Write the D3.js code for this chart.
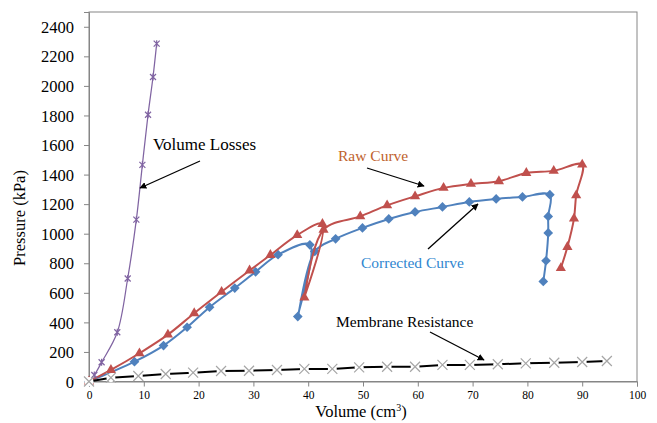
<!DOCTYPE html>
<html>
<head>
<meta charset="UTF-8">
<title>Pressure vs Volume</title>
<style>
	body { margin: 0; background: #ffffff; }
</style>
</head>
<body>
<div id="vis"></div>
<script src="https://d3js.org/d3.v7.min.js"></script>
<script>
// values
var xTicks = [0, 10, 20, 30, 40, 50, 60, 70, 80, 90, 100];
var yTicks = [0, 200, 400, 600, 800, 1000, 1200, 1400, 1600, 1800, 2000, 2200, 2400];

var lossVol = [0, 0.97, 2.3, 5.16, 7.06, 8.64, 9.74, 10.77, 11.68, 12.35];
var lossP   = [0, 44, 130, 333, 697, 1095, 1466, 1805, 2060, 2286];

var rawVol = [0, 4.0, 9.2, 14.4, 19.2, 24.2, 29.3, 33.1, 38.0, 42.6, 39.3, 42.8, 49.5, 54.4, 59.5, 64.7, 69.7, 74.8, 79.8, 84.8, 90.0, 88.9, 88.5, 87.3, 86.1];
var rawP   = [0, 78, 191, 317, 462, 607, 751, 856, 991, 1066, 568, 1027, 1117, 1192, 1253, 1310, 1337, 1355, 1411, 1425, 1468, 1260, 1102, 910, 767];

var corrVol = [0, 8.3, 13.6, 17.9, 22.0, 26.6, 30.4, 34.5, 40.3, 38.1, 41.2, 45.0, 49.9, 54.7, 59.5, 64.5, 69.4, 74.3, 79.1, 84.1, 83.8, 83.8, 83.4, 82.9];
var corrP   = [0, 134, 243, 367, 503, 632, 742, 858, 925, 439, 880, 965, 1039, 1100, 1147, 1181, 1215, 1235, 1249, 1264, 1117, 1005, 817, 677];

var memVol = [0, 4.0, 9.0, 14.0, 19.0, 24.1, 29.2, 34.3, 39.3, 44.4, 49.3, 54.4, 59.5, 64.5, 69.5, 74.6, 79.7, 84.9, 90.0, 94.5];
var memP   = [0, 26, 37, 51, 60, 71, 73, 78, 85, 85, 96, 100, 100, 112, 112, 117, 123, 127, 132, 139];

var serif = "'Liberation Serif', 'Times New Roman', serif";
var width = 657, height = 423;
var margin = {top: 12, right: 20, bottom: 41.5, left: 89};

var svg = d3.select("#vis")
	.append("svg")
	.attr("width", width)
	.attr("height", height);

var x = d3.scaleLinear().domain([0, 100]).range([margin.left, width - margin.right]);
var y = d3.scaleLinear().domain([0, 2500]).range([height - margin.bottom, margin.top]);

var defs = svg.append("defs");
defs.append("marker")
	.attr("id", "arrow")
	.attr("viewBox", "0 0 10 10")
	.attr("refX", 9)
	.attr("refY", 5)
	.attr("markerWidth", 7)
	.attr("markerHeight", 7)
	.attr("markerUnits", "userSpaceOnUse")
	.attr("orient", "auto")
	.append("path")
	.attr("d", "M0,0 L10,5 L0,10 z")
	.attr("fill", "#000");

// plot frame
svg.append("rect")
	.attr("x", x(0))
	.attr("y", y(2500))
	.attr("width", x(100) - x(0))
	.attr("height", y(0) - y(2500))
	.attr("fill", "none")
	.attr("stroke", "#868686")
	.attr("stroke-width", 1);

// axes
var xAxis = svg.append("g")
	.attr("transform", "translate(0," + y(0) + ")")
	.call(d3.axisBottom(x).tickValues(xTicks).tickFormat(d3.format("d")).tickSize(5).tickPadding(4));
var yAxis = svg.append("g")
	.attr("transform", "translate(" + x(0) + ",0)")
	.call(d3.axisLeft(y).tickValues(yTicks).tickFormat(d3.format("d")).tickSize(5).tickPadding(10));

xAxis.select(".domain").attr("stroke", "#868686");
yAxis.select(".domain").attr("stroke", "#868686");
xAxis.selectAll(".tick line").attr("stroke", "#868686");
yAxis.selectAll(".tick line").attr("stroke", "#868686");
xAxis.selectAll(".tick text")
	.attr("fill", "#000")
	.style("font-size", "11.5px");
yAxis.selectAll(".tick text")
	.attr("fill", "#000")
	.attr("dy", "0.34em")
	.style("font-size", "16.5px");

// axis titles
var xTitle = svg.append("text")
	.attr("x", (x(0) + x(100)) / 2 - 2)
	.attr("y", 417)
	.attr("text-anchor", "middle")
	.style("font-size", "16.5px");
xTitle.append("tspan").text("Volume (cm");
xTitle.append("tspan").attr("dy", "-6").style("font-size", "10px").text("3");
xTitle.append("tspan").attr("dy", "6").text(")");

svg.append("text")
	.attr("transform", "translate(25," + 218 + ") rotate(-90)")
	.attr("text-anchor", "middle")
	.style("font-size", "16.5px")
	.text("Pressure (kPa)");

function pts(xs, ys) {
	return xs.map(function(v, i) { return [v, ys[i]]; });
}

var smooth = d3.line()
	.x(function(d) { return x(d[0]); })
	.y(function(d) { return y(d[1]); })
	.curve(d3.curveCatmullRom.alpha(0.5));

var straight = d3.line()
	.x(function(d) { return x(d[0]); })
	.y(function(d) { return y(d[1]); });

var corrData = pts(corrVol, corrP);
var rawData = pts(rawVol, rawP);
var lossData = pts(lossVol, lossP);
var memData = pts(memVol, memP);

// corrected curve
svg.append("path")
	.attr("d", smooth(corrData))
	.attr("fill", "none")
	.attr("stroke", "#4F81BD")
	.attr("stroke-width", 2);
svg.selectAll("path.diamond")
	.data(corrData)
	.enter()
	.append("path")
	.attr("class", "diamond")
	.attr("transform", function(d) { return "translate(" + x(d[0]) + "," + y(d[1]) + ")"; })
	.attr("d", d3.symbol().type(d3.symbolDiamond2).size(60))
	.attr("fill", "#4F81BD");

// raw curve
svg.append("path")
	.attr("d", smooth(rawData))
	.attr("fill", "none")
	.attr("stroke", "#C0504D")
	.attr("stroke-width", 2);
svg.selectAll("path.tri")
	.data(rawData)
	.enter()
	.append("path")
	.attr("class", "tri")
	.attr("transform", function(d) { return "translate(" + x(d[0]) + "," + y(d[1]) + ")"; })
	.attr("d", d3.symbol().type(d3.symbolTriangle).size(45))
	.attr("fill", "#C0504D");

// volume losses
svg.append("path")
	.attr("d", smooth(lossData))
	.attr("fill", "none")
	.attr("stroke", "#8064A2")
	.attr("stroke-width", 1.25);
svg.selectAll("path.star")
	.data(lossData.slice(1))
	.enter()
	.append("path")
	.attr("class", "star")
	.attr("transform", function(d) { return "translate(" + x(d[0]) + "," + y(d[1]) + ")"; })
	.attr("d", "M-3,-3L3,3M-3,3L3,-3M0,-3.5L0,3.5")
	.attr("fill", "none")
	.attr("stroke", "#8064A2")
	.attr("stroke-width", 1.2);

// membrane resistance
svg.append("path")
	.attr("d", straight(memData))
	.attr("fill", "none")
	.attr("stroke", "#000")
	.attr("stroke-width", 2);
var mem = svg.selectAll("g.cross")
	.data(memData)
	.enter()
	.append("g")
	.attr("class", "cross")
	.attr("transform", function(d) { return "translate(" + x(d[0]) + "," + y(d[1]) + ")"; });
mem.append("circle")
	.attr("r", 4.5)
	.attr("fill", "#fff");
mem.append("path")
	.attr("d", "M-5,-5L5,5M-5,5L5,-5")
	.attr("stroke", "#a6a6a6")
	.attr("stroke-width", 1.2);

// annotations
svg.append("text").attr("x", 153).attr("y", 150).style("font-size", "17px").attr("fill", "#000").text("Volume Losses");
svg.append("text").attr("x", 338).attr("y", 161).style("font-size", "15.5px").attr("fill", "#C0622D").text("Raw Curve");
svg.append("text").attr("x", 361).attr("y", 268).style("font-size", "15.5px").attr("fill", "#2F86D0").text("Corrected Curve");
svg.append("text").attr("x", 336).attr("y", 327).style("font-size", "15.5px").attr("fill", "#000").text("Membrane Resistance");

var arrows = [
	[200, 161, 140, 188],
	[367, 168, 424, 186],
	[428, 249, 478, 204],
	[430, 332, 484, 360]
];
svg.selectAll("line.arrow")
	.data(arrows)
	.enter()
	.append("line")
	.attr("class", "arrow")
	.attr("x1", function(d) { return d[0]; })
	.attr("y1", function(d) { return d[1]; })
	.attr("x2", function(d) { return d[2]; })
	.attr("y2", function(d) { return d[3]; })
	.attr("stroke", "#000")
	.attr("stroke-width", 1.3)
	.attr("marker-end", "url(#arrow)");

// Times-like font on every label
svg.selectAll("text").style("font-family", serif);
</script>
</body>
</html>
